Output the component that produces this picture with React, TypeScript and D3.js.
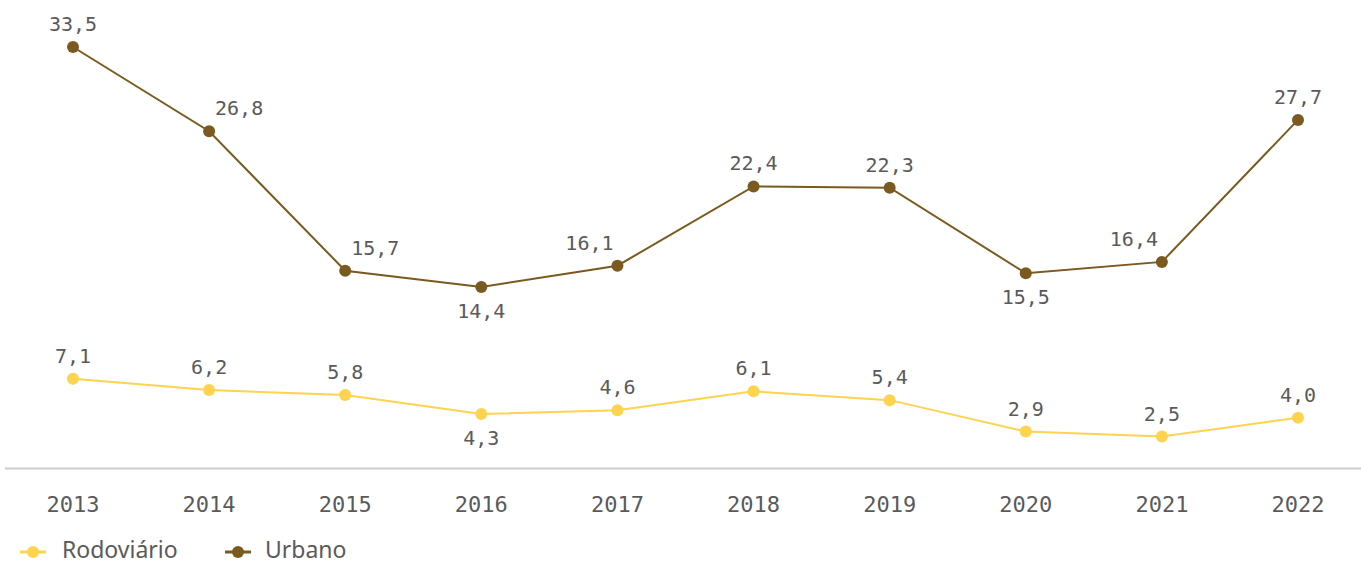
import React from "react";
import * as d3 from "d3";

const years = ["2013", "2014", "2015", "2016", "2017", "2018", "2019", "2020", "2021", "2022"];
const urbano = [33.5, 26.8, 15.7, 14.4, 16.1, 22.4, 22.3, 15.5, 16.4, 27.7];
const rodoviario = [7.1, 6.2, 5.8, 4.3, 4.6, 6.1, 5.4, 2.9, 2.5, 4.0];
// label placement: a = above, b = below, ar = above-right, al = above-left
const urbanoPlace = ["a", "ar", "ar", "b", "al", "a", "a", "b", "al", "a"];
const rodoviarioPlace = ["a", "a", "a", "b", "a", "a", "a", "a", "a", "a"];

const W = 1361;
const H = 565;
const URB = "#7a5a1f";
const ROD = "#fdd34f";
const TXT = "#5a5a5a";
const MONO = "'DejaVu Sans Mono', 'Liberation Mono', monospace";
const SANS = "'Noto Sans', Roboto, sans-serif";

export default function App() {
  const x = d3.scalePoint<string>().domain(years).range([73, 1298]);
  const y = d3.scaleLinear().domain([0, 33.5]).range([468, 47]);
  const line = d3
    .line<number>()
    .x((_, i) => x(years[i]) as number)
    .y((d) => y(d));
  const fmt = (v: number) => v.toFixed(1).replace(".", ",");

  const labelPos = (p: string, px: number, py: number) => {
    switch (p) {
      case "b":
        return { lx: px, ly: py + 31 };
      case "ar":
        return { lx: px + 30, ly: py - 16 };
      case "al":
        return { lx: px - 28, ly: py - 16 };
      default:
        return { lx: px, ly: py - 16 };
    }
  };

  const series = [
    { vals: rodoviario, place: rodoviarioPlace, color: ROD, r: 6 },
    { vals: urbano, place: urbanoPlace, color: URB, r: 6 },
  ];

  return (
    <svg width={W} height={H} style={{ position: "absolute", left: 0, top: 0 }}>
      <rect width={W} height={H} fill="#fff" />
      <line x1={5} x2={W} y1={468.5} y2={468.5} stroke="#cccccc" strokeWidth={2} />
      {years.map((yr) => (
        <text
          key={yr}
          x={x(yr)}
          y={512}
          textAnchor="middle"
          fontFamily={MONO}
          fontSize={22}
          fill={TXT}
        >
          {yr}
        </text>
      ))}
      {series.map((s, si) => (
        <g key={si}>
          <path d={line(s.vals) || ""} fill="none" stroke={s.color} strokeWidth={2} />
          {s.vals.map((v, i) => {
            const px = x(years[i]) as number;
            const py = y(v);
            const { lx, ly } = labelPos(s.place[i], px, py);
            return (
              <g key={i}>
                <circle cx={px} cy={py} r={s.r} fill={s.color} />
                <text
                  x={lx}
                  y={ly}
                  textAnchor="middle"
                  fontFamily={MONO}
                  fontSize={20}
                  fill={TXT}
                >
                  {fmt(v)}
                </text>
              </g>
            );
          })}
        </g>
      ))}
      <g>
        <line x1={20} x2={46} y1={552} y2={552} stroke={ROD} strokeWidth={3} />
        <circle cx={33} cy={552} r={6} fill={ROD} />
        <text x={62} y={558} fontFamily={SANS} fontSize={23} fill={TXT}>
          Rodoviário
        </text>
        <line x1={225} x2={251} y1={552} y2={552} stroke={URB} strokeWidth={3} />
        <circle cx={238} cy={552} r={6} fill={URB} />
        <text x={265} y={558} fontFamily={SANS} fontSize={23} fill={TXT}>
          Urbano
        </text>
      </g>
    </svg>
  );
}
